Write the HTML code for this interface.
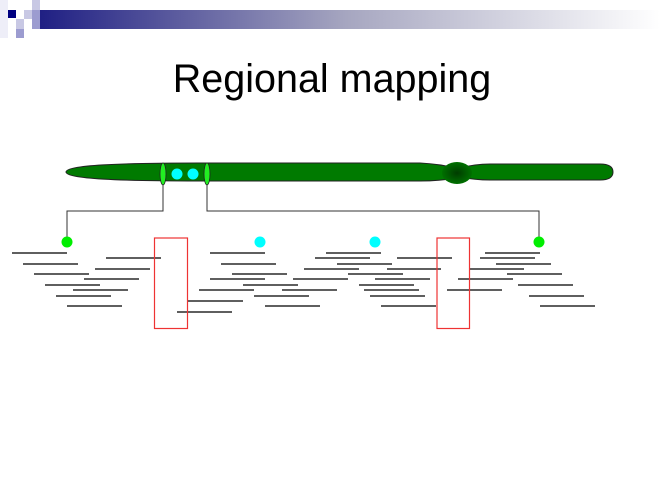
<!DOCTYPE html>
<html><head><style>body{margin:0;background:#fff;width:660px;height:480px;overflow:hidden}</style></head><body>
<svg width="660" height="480" viewBox="0 0 660 480" xmlns="http://www.w3.org/2000/svg">
<defs>
<linearGradient id="bar" x1="0" x2="1" y1="0" y2="0">
<stop offset="0" stop-color="#1c1c82"/><stop offset="0.5" stop-color="#a6a6c0"/><stop offset="1" stop-color="#ffffff"/>
</linearGradient>
<radialGradient id="cen"><stop offset="0" stop-color="#003c00"/><stop offset="1" stop-color="#007000"/></radialGradient>
</defs>
<rect x="0" y="0" width="8" height="38" fill="#eeeef8"/>
<rect x="32" y="10" width="628" height="19" fill="url(#bar)"/>
<rect x="32" y="0" width="8" height="10" fill="#c8c8e4"/>
<rect x="24" y="10" width="8" height="9" fill="#c8c8e4"/>
<rect x="32" y="10" width="8" height="19" fill="#9c9cd0"/>
<rect x="16" y="19" width="8" height="10" fill="#c8c8e4"/>
<rect x="16" y="29" width="8" height="9" fill="#9c9cd0"/>
<rect x="8" y="10" width="8" height="8" fill="#000080"/>
<text x="332" y="92" font-family="Liberation Sans, sans-serif" font-size="39.5" text-anchor="middle">Regional mapping</text>
<path d="M66,172 C66,165 120,163 200,163 L420,163 Q440,164 455,168 L455,178 Q440,181 420,181 L200,181 C120,181 66,179 66,172Z" fill="#007a00" stroke="#222" stroke-width="1"/>
<path d="M460,168 Q475,164 490,164 L600,164 Q613,164 613,172 Q613,180 600,180 L490,180 Q475,180 460,177Z" fill="#007a00" stroke="#222" stroke-width="1"/>
<ellipse cx="457" cy="173" rx="15" ry="11" fill="url(#cen)"/>
<ellipse cx="163" cy="174" rx="3" ry="11" fill="#22ee22" stroke="#222" stroke-width="0.8"/>
<ellipse cx="207" cy="174" rx="3" ry="11" fill="#22ee22" stroke="#222" stroke-width="0.8"/>
<circle cx="177" cy="174" r="5.5" fill="#00ffff"/>
<circle cx="193" cy="174" r="5.5" fill="#00ffff"/>
<g stroke="#333" stroke-width="1" fill="none">
<path d="M163,185 V211 H67 V242"/>
<path d="M207,185 V211 H539 V242"/>
</g>
<circle cx="67" cy="242" r="5.5" fill="#00ee00"/>
<circle cx="539" cy="242" r="5.5" fill="#00ee00"/>
<circle cx="260" cy="242" r="5.5" fill="#00ffff"/>
<circle cx="375" cy="242" r="5.5" fill="#00ffff"/>
<g stroke="#2a2a2a" stroke-width="1.4">
<line x1="12" y1="253" x2="67" y2="253"/><line x1="23" y1="264" x2="78" y2="264"/>
<line x1="34" y1="274" x2="89" y2="274"/><line x1="45" y1="285" x2="100" y2="285"/>
<line x1="56" y1="296" x2="111" y2="296"/><line x1="67" y1="306" x2="122" y2="306"/>
<line x1="106" y1="258" x2="161" y2="258"/><line x1="95" y1="269" x2="150" y2="269"/>
<line x1="84" y1="279" x2="139" y2="279"/><line x1="73" y1="290" x2="128" y2="290"/>
<line x1="188" y1="301" x2="243" y2="301"/><line x1="177" y1="312" x2="232" y2="312"/>
<line x1="210" y1="253" x2="265" y2="253"/><line x1="221" y1="264" x2="276" y2="264"/>
<line x1="232" y1="274" x2="287" y2="274"/><line x1="210" y1="279" x2="265" y2="279"/>
<line x1="243" y1="285" x2="298" y2="285"/><line x1="199" y1="290" x2="254" y2="290"/>
<line x1="254" y1="296" x2="309" y2="296"/><line x1="265" y1="306" x2="320" y2="306"/>
<line x1="326" y1="253" x2="381" y2="253"/><line x1="315" y1="258" x2="370" y2="258"/>
<line x1="337" y1="264" x2="392" y2="264"/><line x1="304" y1="269" x2="359" y2="269"/>
<line x1="348" y1="274" x2="403" y2="274"/><line x1="293" y1="279" x2="348" y2="279"/>
<line x1="359" y1="285" x2="414" y2="285"/><line x1="282" y1="290" x2="337" y2="290"/>
<line x1="364" y1="290" x2="419" y2="290"/><line x1="370" y1="296" x2="425" y2="296"/>
<line x1="381" y1="306" x2="436" y2="306"/><line x1="397" y1="258" x2="452" y2="258"/>
<line x1="387" y1="269" x2="441" y2="269"/><line x1="375" y1="279" x2="430" y2="279"/>
<line x1="485" y1="253" x2="540" y2="253"/><line x1="480" y1="258" x2="535" y2="258"/>
<line x1="496" y1="264" x2="551" y2="264"/><line x1="469" y1="269" x2="524" y2="269"/>
<line x1="507" y1="274" x2="562" y2="274"/><line x1="458" y1="279" x2="513" y2="279"/>
<line x1="518" y1="285" x2="573" y2="285"/><line x1="447" y1="290" x2="502" y2="290"/>
<line x1="529" y1="296" x2="584" y2="296"/><line x1="540" y1="306" x2="595" y2="306"/>
</g>
<rect x="154.5" y="238" width="33" height="90.5" fill="none" stroke="#ee3333" stroke-width="1.2"/>
<rect x="437" y="238" width="32.5" height="90.5" fill="none" stroke="#ee3333" stroke-width="1.2"/>
</svg>
</body></html>
